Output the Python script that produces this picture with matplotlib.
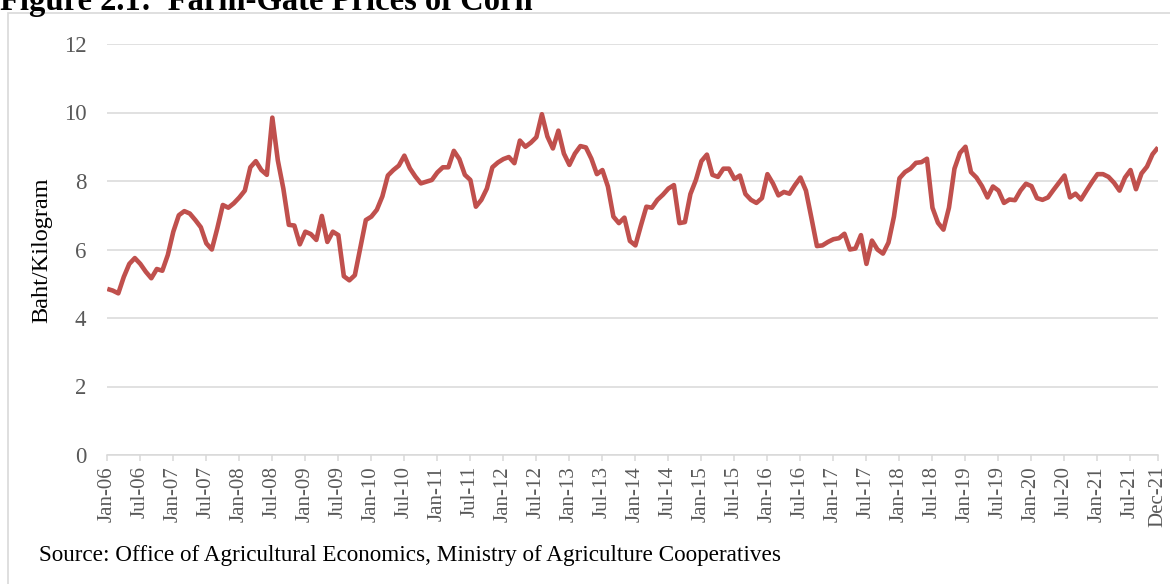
import matplotlib.pyplot as plt
from matplotlib.patches import Rectangle

# Monthly farm-gate prices of corn (Baht/Kilogram), one list per year
p2006 = [4.85, 4.80, 4.72, 5.20, 5.58, 5.75, 5.58, 5.35, 5.16, 5.43, 5.38, 5.84]
p2007 = [6.52, 7.00, 7.12, 7.05, 6.86, 6.65, 6.18, 6.00, 6.62, 7.30, 7.22, 7.35]
p2008 = [7.52, 7.72, 8.40, 8.58, 8.32, 8.18, 9.85, 8.60, 7.78, 6.72, 6.70, 6.15]
p2009 = [6.52, 6.45, 6.28, 6.98, 6.22, 6.52, 6.42, 5.22, 5.10, 5.25, 6.05, 6.86]
p2010 = [6.96, 7.16, 7.55, 8.16, 8.32, 8.45, 8.74, 8.37, 8.13, 7.93, 7.98, 8.03]
p2011 = [8.25, 8.40, 8.40, 8.88, 8.64, 8.18, 8.03, 7.25, 7.45, 7.78, 8.40, 8.54]
p2012 = [8.64, 8.70, 8.52, 9.18, 9.00, 9.12, 9.28, 9.95, 9.30, 8.95, 9.47, 8.80]
p2013 = [8.47, 8.80, 9.02, 8.98, 8.65, 8.20, 8.32, 7.84, 6.96, 6.77, 6.93, 6.25]
p2014 = [6.12, 6.70, 7.25, 7.22, 7.45, 7.60, 7.78, 7.88, 6.77, 6.80, 7.62, 8.03]
p2015 = [8.58, 8.77, 8.18, 8.12, 8.36, 8.36, 8.06, 8.16, 7.62, 7.45, 7.36, 7.50]
p2016 = [8.20, 7.93, 7.58, 7.68, 7.63, 7.88, 8.10, 7.72, 6.92, 6.10, 6.12, 6.22]
p2017 = [6.30, 6.33, 6.46, 6.00, 6.03, 6.42, 5.58, 6.26, 6.00, 5.88, 6.20, 6.96]
p2018 = [8.08, 8.26, 8.36, 8.53, 8.55, 8.65, 7.22, 6.78, 6.58, 7.22, 8.36, 8.82]
p2019 = [9.00, 8.26, 8.10, 7.85, 7.52, 7.84, 7.72, 7.36, 7.46, 7.44, 7.72, 7.92]
p2020 = [7.85, 7.50, 7.45, 7.52, 7.74, 7.95, 8.16, 7.52, 7.63, 7.46, 7.72, 7.97]
p2021 = [8.20, 8.20, 8.12, 7.95, 7.72, 8.10, 8.32, 7.76, 8.22, 8.42, 8.78, 8.98]

years = list(range(2006, 2022))
months = ['Jan', 'Feb', 'Mar', 'Apr', 'May', 'Jun',
          'Jul', 'Aug', 'Sep', 'Oct', 'Nov', 'Dec']
yticks = [0, 2, 4, 6, 8, 10, 12]

prices = (p2006 + p2007 + p2008 + p2009 + p2010 + p2011 + p2012 + p2013
          + p2014 + p2015 + p2016 + p2017 + p2018 + p2019 + p2020 + p2021)
labels = ['%s-%02d' % (m, y % 100) for y in years for m in months]

plt.rcParams['font.family'] = ['Liberation Serif', 'DejaVu Serif']

W, H = 1170, 584
fig = plt.figure(figsize=(W / 100, H / 100), dpi=100)

def px(x, y):
    # pixel coords (from top-left) -> figure fraction
    return x / W, 1 - y / H

# light grey chart frame
fig.patches.append(Rectangle(px(8, 600), 1.2, (600 - 13) / H, transform=fig.transFigure,
                             fill=False, edgecolor='#d9d9d9', linewidth=1.2))

left, top = px(107.3, 44)
right, bottom = px(1158, 455)
ax = fig.add_axes([left, bottom, right - left, top - bottom])

x = list(range(len(prices)))
ax.plot(x, prices, color='#C0504D', linewidth=3.3, solid_joinstyle='round',
        solid_capstyle='butt')

ax.set_xlim(0, len(prices) - 1)
ax.set_ylim(0, 12)
ax.set_yticks(yticks)
ax.grid(axis='y', color='#d9d9d9', linewidth=1.1)
ax.set_axisbelow(True)

tick_pos = list(range(0, len(prices), 6)) + [len(prices) - 1]
ax.set_xticks(tick_pos)
ax.set_xticklabels([labels[i] for i in tick_pos], rotation=90)

for s in ['top', 'right', 'left']:
    ax.spines[s].set_visible(False)
ax.spines['bottom'].set_color('#d9d9d9')
ax.spines['bottom'].set_linewidth(1.1)

ax.tick_params(axis='y', length=0, pad=15, labelsize=16.5, labelcolor='#595959')
ax.tick_params(axis='x', length=4, width=1.1, color='#d9d9d9', pad=4,
               labelsize=15, labelcolor='#595959')

fig.text(*px(42, 250), 'Baht/Kilogram', rotation=90, ha='center', va='center',
         fontsize=17.5, color='black')
fig.text(*px(39, 561), 'Source: Office of Agricultural Economics, Ministry of Agriculture Cooperatives',
         ha='left', va='baseline', fontsize=16.7, color='black')
fig.text(*px(0, 10), 'Figure 2.1:  Farm-Gate Prices of Corn', ha='left', va='baseline',
         fontsize=23.5, fontweight='bold', color='black')

fig.savefig('out.png', dpi=100)
